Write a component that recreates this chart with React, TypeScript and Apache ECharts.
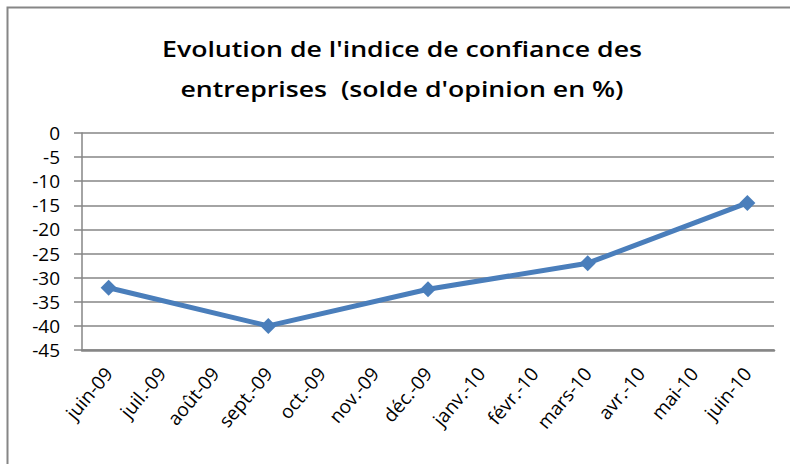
import React, { useEffect, useRef } from "react";
import * as echarts from "echarts";

const categories = [
  "juin-09", "juil.-09", "août-09", "sept.-09", "oct.-09", "nov.-09", "déc.-09",
  "janv.-10", "févr.-10", "mars-10", "avr.-10", "mai-10", "juin-10",
];
const confianceValues: (number | null)[] = [
  -32.1, null, null, -40.0, null, null, -32.4, null, null, -27.0, null, null, -14.5,
];
const titleLines = ["Evolution de l'indice de confiance des", "entreprises  (solde d'opinion en %)"];

export default function App() {
  const ref = useRef<HTMLDivElement>(null);
  useEffect(() => {
    document.body.style.margin = "0";
    const chart = echarts.init(ref.current!, null, { renderer: "svg" });
    const font = "'Open Sans', 'Liberation Sans', sans-serif";
    chart.setOption({
      animation: false,
      backgroundColor: "#ffffff",
      graphic: [
        {
          type: "rect",
          shape: { x: 7.5, y: 7.5, width: 800, height: 480 },
          style: { fill: "none", stroke: "#868686", lineWidth: 2 },
          silent: true,
        },
        ...titleLines.map((t, i) => ({
          type: "text",
          x: 402,
          y: 49 + i * 40,
          scaleX: 1.27,
          style: {
            text: t,
            fontFamily: font,
            fontSize: 21,
            fontWeight: 600,
            fill: "#000",
            textAlign: "center",
            textVerticalAlign: "middle",
          },
          silent: true,
        })),
      ],
      grid: { left: 82, right: 16, top: 133, bottom: 114 },
      xAxis: {
        type: "category",
        data: categories,
        boundaryGap: true,
        axisLine: { onZero: false, lineStyle: { color: "#868686", width: 2.5 } },
        axisTick: { show: false },
        axisLabel: {
          interval: 0,
          rotate: 50,
          margin: 20,
          fontFamily: font,
          fontSize: 19,
          color: "#000",
        },
      },
      yAxis: {
        type: "value",
        min: -45,
        max: 0,
        interval: 5,
        axisLine: { show: true, lineStyle: { color: "#868686", width: 1.5 } },
        axisTick: { show: true, length: 8, lineStyle: { color: "#868686", width: 1.5 } },
        axisLabel: { margin: 22, fontFamily: font, fontSize: 19, color: "#000" },
        splitLine: { lineStyle: { color: "#868686", width: 1.5 } },
      },
      series: [
        {
          type: "line",
          data: confianceValues,
          connectNulls: true,
          symbol: "diamond",
          symbolSize: 16,
          lineStyle: { color: "#4a7ebb", width: 5 },
          itemStyle: { color: "#4a7ebb" },
        },
      ],
    });
    return () => chart.dispose();
  }, []);
  return <div ref={ref} style={{ width: 790, height: 464 }} />;
}
